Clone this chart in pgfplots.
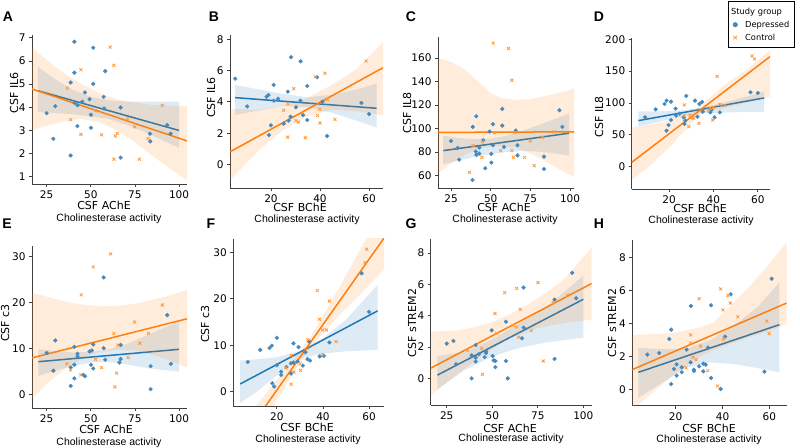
\documentclass[border=0pt]{standalone}
\usepackage{fontspec}
\setmainfont{Liberation Sans}
\newfontfamily\dejavu{DejaVu Sans}
\usepackage{pgfplots}
\pgfplotsset{compat=1.18}
\definecolor{tabblue}{HTML}{1F77B4}
\definecolor{taborange}{HTML}{FF7F0E}
\definecolor{ptblue}{HTML}{4689BD}
\definecolor{ptorange}{HTML}{FF993E}
\definecolor{spine}{HTML}{404040}
\newcommand{\tickfont}{\dejavu\fontsize{10.5bp}{12bp}\selectfont}
\newcommand{\labfont}{\dejavu\fontsize{11bp}{13bp}\selectfont}
\newcommand{\subfont}{\fontsize{10.5bp}{12bp}\selectfont}
\newcommand{\panfont}{\bfseries\fontsize{14bp}{16bp}\selectfont}
\newcommand{\legfont}{\dejavu\fontsize{8.3bp}{10bp}\selectfont}
\pgfplotsset{
  panel/.style={
    scale only axis, anchor=south west,
    axis x line*=bottom, axis y line*=left,
    axis line style={-, spine, line width=0.8bp},
    tick align=outside, major tick length=3bp,
    every tick/.style={spine, line width=0.8bp},
    tick label style={font=\tickfont},
    /pgf/number format/assume math mode=true,
    scaled ticks=false, clip=true,
  },
  bscat/.style={only marks, mark=*, mark size=1.9bp, color=ptblue, mark options={solid, fill=ptblue, draw=ptblue, line width=0.4bp}},
  oscat/.style={only marks, mark=x, mark size=2.1bp, color=ptorange, mark options={solid, draw=ptorange, line width=0.8bp}},
  bband/.style={fill=tabblue, fill opacity=0.15, draw=none},
  oband/.style={fill=taborange, fill opacity=0.15, draw=none},
  bline/.style={tabblue, line width=1.5bp, no marks},
  oline/.style={taborange, line width=1.5bp, no marks},
}
\begin{document}
\begin{tikzpicture}
\useasboundingbox (0bp,0bp) rectangle (800bp,448bp);
% ---------- A ----------
\begin{axis}[panel, at={(32bp,264bp)}, width=155bp, height=149bp,
  xmin=16.7, xmax=104.5, ymin=0.69, ymax=7.12, xtick={25,50,75,100}, ytick={1,...,7}]
\addplot[bscat] coordinates {(40.7,6.83)(51.4,6.57)(40.7,5.49)(58.2,5.56)(38.6,5.07)(51.4,5.01)(46.7,4.64)(57.3,4.45)(49.3,4.35)(45.2,4.24)(40.8,4.19)(42.5,4.09)(29.9,4.05)(57.5,3.95)(66.9,3.99)(25,3.75)(50.1,3.68)(42.4,3.19)(50.1,3.12)(93.3,3.23)(83.5,2.86)(95.2,2.86)(28.8,2.64)(83.7,2.53)(38.6,1.92)(66.9,1.83)};
\addplot[bband] coordinates {(20,5.75)(30,5.2)(40,4.75)(50,4.45)(60,4.3)(70,4.25)(80,4.25)(90,4.25)(100,4.25)(100,2.25)(90,2.6)(80,2.95)(70,3.25)(60,3.5)(50,3.6)(40,3.7)(30,3.75)(20,3.8)} -- cycle;
\addplot[bline] coordinates {(20.3,4.71)(100,3.0)};
\addplot[oscat] coordinates {(61,6.6)(63.1,5.81)(44.4,5.62)(36.7,4.83)(38.6,3.47)(52.7,3.85)(70.8,3.5)(74.8,3.16)(90.5,4.08)(44.4,2.83)(56.1,2.81)(65,2.87)(63.9,2.76)(82.5,2.65)(63.1,1.76)(77.5,1.76)};
\addplot[oband] coordinates {(16.7,6.57)(25,6.05)(35,5.45)(45,5.0)(55,4.6)(65,4.35)(75,4.2)(85,4.1)(95,4.08)(104.5,4.05)(104.5,0.85)(95,1.35)(85,1.9)(75,2.5)(65,3.0)(55,3.35)(45,3.5)(35,3.4)(25,3.2)(16.7,3.0)} -- cycle;
\addplot[oline] coordinates {(16.7,4.79)(104.5,2.55)};
\end{axis}
% ---------- B ----------
\begin{axis}[panel, at={(230bp,260bp)}, width=153bp, height=153bp,
  xmin=3.3, xmax=65.7, ymin=-1.5, ymax=8.27, xtick={20,40,60}, ytick={0,2,4,6,8}]
\addplot[bscat] coordinates {(5.4,5.48)(28.2,6.85)(32.1,6.59)(38.8,5.57)(21.1,5.08)(34.8,5.01)(18.2,4.33)(19,4.44)(21.2,4.08)(22.9,4.2)(10.3,3.71)(26.9,4.65)(32,4.08)(30.2,3.65)(33.1,3.16)(28,3.05)(27.2,2.8)(34.8,2.84)(20,2.5)(25.2,2.61)(19.2,1.88)(42.9,1.82)(56.9,3.93)(60,3.22)(41,4.01)};
\addplot[bband] coordinates {(5.4,5.08)(15,4.8)(25,4.5)(35,4.3)(45,4.45)(55,4.8)(63.1,5.18)(63.1,2.35)(55,2.8)(45,3.3)(35,3.65)(25,3.75)(15,3.45)(5.4,3.16)} -- cycle;
\addplot[bline] coordinates {(5.4,4.27)(63.1,3.59)};
\addplot[oscat] coordinates {(58.8,6.61)(42,5.83)(38.1,5.6)(29.3,4.84)(43,4.16)(25.2,3.46)(26.9,3.88)(39.9,3.52)(39,3.12)(30.2,2.8)(31.2,2.71)(40,2.65)(46.1,2.88)(26.8,1.75)(34,1.71)};
\addplot[oband] coordinates {(3.3,3.55)(15,3.5)(25,3.75)(35,4.25)(45,5.1)(55,6.1)(65.7,7.8)(65.7,3.15)(55,3.4)(45,3.5)(35,3.1)(25,2.2)(15,0.9)(3.3,-1.0)} -- cycle;
\addplot[oline] coordinates {(3.3,0.81)(65.7,6.18)};
\end{axis}
% ---------- C ----------
\begin{axis}[panel, at={(438bp,260bp)}, width=136bp, height=151bp,
  xmin=16.8, xmax=102.5, ymin=49.5, ymax=178, xtick={25,50,75,100}, ytick={60,80,...,160}]
\addplot[bscat] coordinates {(25,89.5)(29.2,83.6)(30.1,73.6)(38.7,101.5)(40.9,110.6)(38.5,56.3)(40.6,80.5)(41,77.6)(42.8,83.9)(42.8,78.8)(45.3,90.1)(46.6,66.3)(49.3,97.5)(50.4,78.5)(50.4,71.1)(51.4,103.8)(51.4,85.9)(57.3,116.8)(57.3,102.6)(58.4,84.4)(65.8,98.4)(66.9,85.9)(66.9,77.3)(83.6,76.2)(83.6,65.7)(93.3,115.7)(95.2,101.5)};
\addplot[bband] coordinates {(20.1,94)(30,92)(40,91)(50,91.5)(60,94)(70,98)(80,103)(90,108)(99.4,113)(99.4,77)(90,79)(80,80.5)(70,81)(60,80)(50,78.5)(40,76)(30,73)(20.1,69.5)} -- cycle;
\addplot[bline] coordinates {(20.1,81.3)(99.4,96.1)};
\addplot[oscat] coordinates {(51.6,172.8)(61.2,168.2)(63.3,141.2)(52.5,96.4)(44.9,88.7)(38.9,85.6)(44.5,75.6)(56.3,81.3)(63.3,81.3)(64.3,75.6)(65.4,96.6)(71.3,75.6)(74.9,89.5)(77.4,68.5)(82.5,92.7)(89.9,97.2)(36.6,62.8)};
\addplot[oband] coordinates {(16.8,160)(25,157)(33,151)(43,139)(50,130)(57,126)(65,124.5)(75,125)(85,128)(95,131)(102.5,134)(102.5,59)(95,64)(85,72)(75,79)(65,84)(55,85)(45,84)(35,79)(25,70)(16.8,62)} -- cycle;
\addplot[oline] coordinates {(16.8,96.8)(102.5,97.3)};
\end{axis}
% ---------- D ----------
\begin{axis}[panel, at={(631.7bp,259bp)}, width=138.3bp, height=151bp,
  xmin=3.2, xmax=65.5, ymin=-35, ymax=202, xtick={20,40,60}, ytick={0,50,...,200},
  legend cell align=left,
  legend style={at={(axis description cs:0.696,0.934)}, anchor=south west, draw=black, line width=0.8bp, fill=white, font=\legfont, inner xsep=3bp, inner ysep=4bp, row sep=1.2bp}]
\addlegendimage{legend image code/.code={\path (0bp,0bp) (11bp,0bp);}}
\addlegendentry{\hspace*{-14bp}Study group}
\addlegendimage{legend image code/.code={\path (0bp,0bp) (11bp,0bp); \fill[ptblue] (3.5bp,0bp) circle (2.1bp);}}
\addlegendentry{Depressed}
\addlegendimage{legend image code/.code={\path (0bp,0bp) (11bp,0bp); \draw[ptorange, line width=0.8bp] (1.7bp,-1.7bp) -- (5.3bp,1.7bp) (1.7bp,1.7bp) -- (5.3bp,-1.7bp);}}
\addlegendentry{Control}
\addplot[bscat, forget plot] coordinates {(9.2,77.5)(14,90)(18,98.4)(18.9,103.7)(20.9,102.1)(18.9,56.5)(19.8,65.4)(20.9,73.3)(23,91.1)(23.2,80.1)(24.8,83.2)(27.8,111)(26.6,77.5)(27.4,72.3)(27,67)(31.7,103.7)(33.7,98.4)(34.9,101.6)(32.8,78.5)(35.2,86.4)(38.6,85.3)(39.1,89)(40.5,77.5)(42.9,85.3)(56.7,116.8)(60,115.7)};
\addplot[bband, forget plot] coordinates {(6.2,87)(15,87)(25,88)(35,92.5)(45,101)(55,110)(62.9,118)(62.9,86)(55,86)(45,85)(35,84)(25,78)(15,70)(6.2,63)} -- cycle;
\addplot[bline, forget plot] coordinates {(6.2,72.3)(62.9,107.9)};
\addplot[oscat, forget plot] coordinates {(57.4,173.8)(58.5,169.1)(41.7,141.9)(26.9,96.9)(26.9,80.1)(28.9,62.8)(29.5,80.6)(30.5,77)(33.5,68.1)(31,76)(37.9,89)(38.5,91.6)(39.7,73.3)(42.9,97.9)(45,96.3)(40,93.2)};
\addplot[oband, forget plot] coordinates {(3.2,61)(10,65)(20,72)(30,87)(35,98)(45,128)(55,152)(65.5,183)(65.5,110)(55,101)(45,92)(35,84)(30,68)(20,30)(10,-3)(3.2,-21)} -- cycle;
\addplot[oline, forget plot] coordinates {(3.2,6.8)(65.5,172.8)};
\end{axis}
% ---------- E ----------
\begin{axis}[panel, at={(32bp,40bp)}, width=155bp, height=162.3bp,
  xmin=16.7, xmax=104.5, ymin=-2.9, ymax=32.4, xtick={25,50,75,100}, ytick={0,10,20,30}]
\addplot[bscat] coordinates {(25,9.06)(29.9,11.8)(28.8,5.2)(38.6,5.9)(38.6,1.9)(40.7,10.4)(40.7,6.5)(40.7,3.55)(42.5,8.9)(42.5,8.3)(45.8,4.3)(46.7,4)(49.3,9.4)(50.6,9.6)(51.4,10.9)(51.4,5.7)(50.1,6.5)(57.3,25.5)(57.3,10.1)(58.2,7.6)(66.9,10.8)(66.9,7.75)(66.2,7)(83.9,6.2)(83.9,1.2)(93.3,17.3)(95.4,6.7)};
\addplot[bband] coordinates {(20.3,9.9)(30,9.5)(40,9.2)(50,9.3)(60,9.8)(70,11)(80,12.6)(90,14.3)(100,15.9)(100,5)(90,5.4)(80,5.9)(70,6.6)(60,7.1)(50,7.0)(40,6.3)(30,5.2)(20.3,4.1)} -- cycle;
\addplot[bline] coordinates {(20.3,7.17)(100,9.86)};
\addplot[oscat] coordinates {(61.2,30.6)(51.4,27.8)(44.6,21.7)(90.5,19.5)(74.8,15.8)(63.1,13.3)(82.7,13.3)(77.8,11.2)(65.4,10.8)(71.2,8.04)(52.7,7.7)(56.1,5.9)(36.5,6.7)(38.6,5.4)(44.4,4.3)(64.6,4.7)(63.6,1.7)};
\addplot[oband] coordinates {(16.7,22.2)(25,21.3)(35,20.3)(45,19.6)(55,19.2)(65,19.3)(75,19.8)(85,20.6)(95,21.6)(104.5,22.8)(104.5,5.9)(95,7.4)(85,8.7)(75,9.6)(65,9.8)(55,9.3)(45,7.9)(35,5.5)(25,2.4)(16.7,-0.9)} -- cycle;
\addplot[oline] coordinates {(16.7,8.0)(104.5,16.5)};
\end{axis}
% ---------- F ----------
\begin{axis}[panel, at={(233.3bp,42bp)}, width=150.7bp, height=167bp,
  xmin=1.1, xmax=66.5, ymin=-3.1, ymax=32.9, xtick={20,40,60}, ytick={0,10,20,30}]
\addplot[bscat] coordinates {(7.4,6.4)(12.8,9)(16.8,9.4)(17.8,9.9)(20,11.6)(20,5.7)(18,1.8)(18.8,1.1)(21.9,4.3)(21.9,3.6)(24.2,5.3)(26.1,6.1)(27.2,10.4)(27.2,6.25)(26.2,3.9)(29,6.5)(29.4,9.6)(31.3,5.6)(32.4,8.5)(33.3,7)(34.4,6.7)(34,10.8)(38.6,7.6)(40.4,7.7)(42.8,10.6)(56.8,25.5)(60,17.2)};
\addplot[bband] coordinates {(4.1,6.7)(10,6.9)(20,7.4)(30,8.8)(40,11.5)(50,15.5)(63.7,23)(63.7,9)(50,8.7)(40,8.2)(30,7.2)(20,3.5)(10,-0.5)(4.1,-2.4)} -- cycle;
\addplot[bline] coordinates {(4.1,1.65)(63.7,17.4)};
\addplot[oscat] coordinates {(59,30.7)(58.3,27.8)(37.6,21.8)(42.8,19.5)(38.5,15.6)(39.9,13.3)(41.5,13.3)(45.7,10.8)(33.4,11.2)(39.8,8.0)(26.2,7.75)(30.1,6.0)(23.9,5.1)(27.4,4.2)(30.3,4.6)(26.2,1.6)};
\addplot[oband] coordinates {(10,-3.72)(20,2.53)(27,6.67)(33,10.6)(40,16.23)(47,22.37)(55,29.61)(66.6,39.98)(66.6,26.38)(55,20.41)(47,16.37)(40,12.63)(33,8.4)(27,3.87)(20,-1.87)(10,-9.72)} -- cycle;
\addplot[oline] coordinates {(10,-6.72)(66.6,33.18)};
\end{axis}
% ---------- G ----------
\begin{axis}[panel, at={(430.7bp,43bp)}, width=161bp, height=166bp,
  xmin=16.2, xmax=104.6, ymin=-1.7, ymax=8.9, xtick={25,50,75,100}, ytick={0,2,4,6,8}]
\addplot[bscat] coordinates {(25,2.22)(28.7,2.39)(30.1,0.9)(38.7,0)(38.7,1.47)(40.9,2.13)(40.9,1.32)(40.9,1.07)(42.6,1.54)(45.8,1.36)(46.6,1.73)(46.6,1.62)(49.7,3.07)(50.2,1.43)(50.8,1.15)(51.7,1.11)(51.7,0.72)(57.5,3.62)(57.5,1.11)(58.5,0)(67.2,5.8)(67.2,3.24)(66.3,2.56)(84.2,5.03)(84.2,1.24)(93.9,6.74)(96.1,5.12)};
\addplot[bband] coordinates {(19.9,1.43)(35,1.7)(50,2.5)(65,3.5)(80,4.6)(100,6.55)(100,2.6)(80,2.3)(65,1.95)(50,1.4)(35,0.55)(19.9,-0.7)} -- cycle;
\addplot[bline] coordinates {(19.9,0.21)(100,5.05)};
\addplot[oscat] coordinates {(56.8,5.48)(63.4,5.74)(75.1,6.12)(51.5,4.14)(65.4,4.41)(83.5,4.84)(91.2,5.31)(61.4,3.39)(63.4,3.28)(52.4,2.88)(71.4,3.05)(64.5,2.64)(44.2,1.92)(36.3,1.79)(44.6,0.26)(78,1.11)};
\addplot[oband] coordinates {(16,2.98)(30,3.05)(40,3.25)(50,3.6)(60,4.1)(70,4.75)(80,5.5)(90,6.4)(104.6,8.36)(104.6,3.75)(90,3.55)(75,3.2)(60,2.6)(45,1.5)(30,0.2)(16,-1.1)} -- cycle;
\addplot[oline] coordinates {(16,0.64)(104.6,6.06)};
\end{axis}
% ---------- H ----------
\begin{axis}[panel, at={(632.3bp,42.3bp)}, width=154.4bp, height=165.7bp,
  xmin=1.5, xmax=67.4, ymin=-0.97, ymax=9.05, xtick={20,40,60}, ytick={0,2,4,6,8}]
\addplot[bscat] coordinates {(7.9,2.12)(13,2.22)(17.3,3.06)(18.1,3.63)(18.1,0.34)(19.3,1.25)(20.4,1.53)(20.4,0.85)(22.6,1.05)(22.6,1.35)(24.7,2.42)(26.4,1.65)(26.5,5.06)(27.8,1.21)(27.8,1.13)(30,1.41)(31.8,1.57)(32.8,1.51)(31.8,1.11)(33.8,2.54)(35.1,5.1)(35.1,0.71)(39.2,0.04)(41.1,3.21)(43.5,5.77)(57.9,1.09)(61,6.71)};
\addplot[bband] coordinates {(4.1,2.52)(15,2.45)(25,2.5)(35,3.0)(45,3.9)(55,5.0)(64.3,6.49)(64.3,1.05)(55,1.3)(45,1.55)(35,1.65)(25,1.35)(15,0.5)(4.1,-0.5)} -- cycle;
\addplot[bline] coordinates {(4.1,1.05)(64.3,3.93)};
\addplot[oscat] coordinates {(39.2,6.09)(30,5.5)(42.3,5.69)(43.3,5.24)(40.2,4.82)(46.5,4.4)(26.4,3.31)(26.4,2.82)(30.7,2.64)(27.4,1.96)(28.7,1.81)(24.4,1.33)(33.7,1.15)(37.9,0.22)(40.4,3.06)(58.9,4.15)(59.9,3.39)};
\addplot[oband] coordinates {(1.5,3.31)(10,3.35)(20,3.45)(30,3.75)(36,4.05)(40,4.6)(50,6.0)(60,7.6)(67.4,8.9)(67.4,3.97)(60,3.55)(50,3.1)(40,2.6)(30,2.0)(20,1.0)(10,-0.2)(1.5,-1.2)} -- cycle;
\addplot[oline] coordinates {(1.5,1.21)(67.4,5.24)};
\end{axis}
% ---------- labels ----------
\node[font=\panfont] at (8bp,431bp) {A};
\node[font=\panfont] at (214bp,431bp) {B};
\node[font=\panfont] at (411bp,431bp) {C};
\node[font=\panfont] at (599bp,431bp) {D};
\node[font=\panfont] at (7bp,224bp) {E};
\node[font=\panfont] at (211bp,224bp) {F};
\node[font=\panfont] at (411bp,224bp) {G};
\node[font=\panfont] at (599bp,224bp) {H};
\node[font=\labfont, rotate=90] at (14bp,355bp) {CSF IL6};
\node[font=\labfont, rotate=90] at (211bp,350.5bp) {CSF IL6};
\node[font=\labfont, rotate=90] at (407bp,335bp) {CSF IL8};
\node[font=\labfont, rotate=90] at (599bp,331bp) {CSF IL8};
\node[font=\labfont, rotate=90] at (5bp,125bp) {CSF c3};
\node[font=\labfont, rotate=90] at (205bp,124bp) {CSF c3};
\node[font=\labfont, rotate=90] at (412bp,125bp) {CSF sTREM2};
\node[font=\labfont, rotate=90] at (612bp,125bp) {CSF sTREM2};
\node[font=\labfont, anchor=base] at (104bp,238bp) {CSF AChE};
\node[font=\subfont, anchor=base] at (109bp,226.3bp) {Cholinesterase activity};
\node[font=\labfont, anchor=base] at (300bp,236bp) {CSF BChE};
\node[font=\subfont, anchor=base] at (307bp,225.5bp) {Cholinesterase activity};
\node[font=\labfont, anchor=base] at (504bp,236.3bp) {CSF AChE};
\node[font=\subfont, anchor=base] at (505bp,225.5bp) {Cholinesterase activity};
\node[font=\labfont, anchor=base] at (700bp,235bp) {CSF BChE};
\node[font=\subfont, anchor=base] at (701bp,224bp) {Cholinesterase activity};
\node[font=\labfont, anchor=base] at (106bp,15bp) {CSF AChE};
\node[font=\subfont, anchor=base] at (109bp,2.3bp) {Cholinesterase activity};
\node[font=\labfont, anchor=base] at (307bp,16.7bp) {CSF BChE};
\node[font=\subfont, anchor=base] at (308bp,6bp) {Cholinesterase activity};
\node[font=\labfont, anchor=base] at (510bp,15.7bp) {CSF AChE};
\node[font=\subfont, anchor=base] at (511bp,6.3bp) {Cholinesterase activity};
\node[font=\labfont, anchor=base] at (709bp,15.7bp) {CSF BChE};
\node[font=\subfont, anchor=base] at (709bp,6bp) {Cholinesterase activity};
\end{tikzpicture}
\end{document}
